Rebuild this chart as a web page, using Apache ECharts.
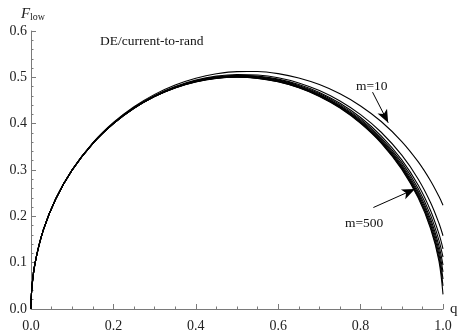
<!DOCTYPE html>
<html>
<head>
<meta charset="utf-8">
<script src="https://cdn.jsdelivr.net/npm/echarts@6/dist/echarts.min.js"></script>
<style>html,body{margin:0;padding:0;background:#fff;}#c{width:462px;height:333px;}</style>
</head>
<body>
<div id="c"></div>
<script>
const q = [0, 0.002, 0.01, 0.03, 0.06, 0.1, 0.15, 0.2, 0.25, 0.3, 0.35, 0.4, 0.45, 0.5, 0.55, 0.6, 0.65, 0.7, 0.75, 0.8, 0.85, 0.9, 0.94, 0.97, 0.99, 1];
const fM10  = [0, 0.0447, 0.0995, 0.1706, 0.2379, 0.3008, 0.3587, 0.4025, 0.4366, 0.4632, 0.4834, 0.4980, 0.5076, 0.5124, 0.5125, 0.5080, 0.4987, 0.4844, 0.4645, 0.4383, 0.4047, 0.3615, 0.3174, 0.2763, 0.2431, 0.2241];
const fM20  = [0, 0.0447, 0.0995, 0.1706, 0.2377, 0.3004, 0.3579, 0.4012, 0.4348, 0.4607, 0.4802, 0.4940, 0.5026, 0.5062, 0.5050, 0.4990, 0.4879, 0.4714, 0.4490, 0.4195, 0.3815, 0.3320, 0.2802, 0.2294, 0.1855, 0.1581];
const fM30  = [0, 0.0447, 0.0995, 0.1706, 0.2376, 0.3003, 0.3576, 0.4008, 0.4342, 0.4599, 0.4791, 0.4926, 0.5009, 0.5042, 0.5026, 0.4961, 0.4844, 0.4672, 0.4439, 0.4133, 0.3738, 0.3220, 0.2671, 0.2121, 0.1627, 0.1300];
const fM50  = [0, 0.0447, 0.0995, 0.1706, 0.2376, 0.3002, 0.3575, 0.4006, 0.4339, 0.4595, 0.4786, 0.4919, 0.5000, 0.5031, 0.5013, 0.4945, 0.4825, 0.4649, 0.4411, 0.4099, 0.3695, 0.3164, 0.2597, 0.2021, 0.1488, 0.1118];
const fM75  = [0, 0.0447, 0.0995, 0.1706, 0.2375, 0.3001, 0.3574, 0.4004, 0.4337, 0.4591, 0.4781, 0.4914, 0.4993, 0.5022, 0.5002, 0.4932, 0.4809, 0.4630, 0.4388, 0.4071, 0.3661, 0.3119, 0.2537, 0.1938, 0.1368, 0.0949];
const fM100 = [0, 0.0447, 0.0995, 0.1706, 0.2375, 0.3001, 0.3573, 0.4003, 0.4335, 0.4589, 0.4778, 0.4909, 0.4988, 0.5016, 0.4994, 0.4922, 0.4798, 0.4617, 0.4372, 0.4051, 0.3635, 0.3085, 0.2491, 0.1874, 0.1272, 0.0800];
const fM200 = [0, 0.0447, 0.0995, 0.1706, 0.2375, 0.3001, 0.3572, 0.4002, 0.4333, 0.4587, 0.4775, 0.4906, 0.4984, 0.5010, 0.4988, 0.4914, 0.4788, 0.4605, 0.4357, 0.4033, 0.3613, 0.3056, 0.2452, 0.1818, 0.1184, 0.0648];
const fM300 = [0, 0.0447, 0.0995, 0.1706, 0.2375, 0.3000, 0.3571, 0.4001, 0.4332, 0.4585, 0.4773, 0.4903, 0.4980, 0.5006, 0.4983, 0.4908, 0.4781, 0.4596, 0.4346, 0.4020, 0.3596, 0.3034, 0.2421, 0.1773, 0.1111, 0.0500];
const fM500 = [0, 0.0447, 0.0995, 0.1706, 0.2375, 0.3000, 0.3571, 0.4000, 0.4331, 0.4584, 0.4771, 0.4901, 0.4977, 0.5002, 0.4978, 0.4903, 0.4774, 0.4588, 0.4337, 0.4008, 0.3581, 0.3013, 0.2393, 0.1733, 0.1043, 0.0316];
const curves = [['m=10', fM10], ['m=20', fM20], ['m=30', fM30], ['m=50', fM50], ['m=75', fM75], ['m=100', fM100], ['m=200', fM200], ['m=300', fM300], ['m=500', fM500]];
const xTicks = ['0.0', '0.2', '0.4', '0.6', '0.8', '1.0'];
const yTicks = ['0.0', '0.1', '0.2', '0.3', '0.4', '0.5', '0.6'];
const title = 'DE/current-to-rand';
// arrow annotations in data coords: [label, from, to]
const arrows = [
  ['m=10', [0.829, 0.468], [0.867, 0.402]],
  ['m=500', [0.831, 0.219], [0.932, 0.259]]
];

const font = 'Liberation Serif';
const axisGray = '#7a7a7a';
const chart = echarts.init(document.getElementById('c'), null, {renderer: 'canvas'});

const series = curves.map((c, i) => ({
  name: c[0],
  type: 'line',
  data: q.map((x, k) => [x, c[1][k]]),
  smooth: 0.35,
  showSymbol: false,
  symbol: 'none',
  lineStyle: {color: '#000', width: 1.1},
  z: 3,
  silent: true,
  animation: false
}));
series[0].markLine = {
  silent: true,
  animation: false,
  symbol: ['none', 'arrow'],
  symbolSize: [8, 13],
  label: {show: false},
  lineStyle: {color: '#000', width: 1, type: 'solid'},
  data: arrows.map(a => [{coord: a[1]}, {coord: a[2]}])
};

chart.setOption({
  backgroundColor: '#fff',
  animation: false,
  grid: {left: 31, right: 19, top: 31, bottom: 18},
  xAxis: {
    type: 'value', min: 0, max: 1, interval: 0.2,
    name: 'q', nameLocation: 'end', nameGap: 7,
    nameTextStyle: {fontFamily: font, fontSize: 15, color: '#222', padding: [0, 0, 3, 0]},
    axisLine: {show: true, lineStyle: {color: axisGray, width: 1}},
    axisTick: {show: true, inside: true, length: 5, lineStyle: {color: axisGray}},
    minorTick: {show: true, splitNumber: 4, length: 2.5, lineStyle: {color: axisGray}},
    splitLine: {show: false},
    axisLabel: {margin: 10, fontFamily: font, fontSize: 14, color: '#222',
      formatter: v => xTicks[Math.round(v / 0.2)]}
  },
  yAxis: {
    type: 'value', min: 0, max: 0.6, interval: 0.1,
    name: '{f|F}{s|low}', nameLocation: 'end', nameGap: 9,
    nameTextStyle: {padding: [0, 0, 0, 4], rich: {
      f: {fontFamily: font, fontStyle: 'italic', fontSize: 15, color: '#222'},
      s: {fontFamily: font, fontSize: 10, color: '#222', verticalAlign: 'bottom', padding: [6, 0, 0, 0]}
    }},
    axisLine: {show: true, lineStyle: {color: axisGray, width: 1}},
    axisTick: {show: true, inside: true, length: 5, lineStyle: {color: axisGray}},
    minorTick: {show: true, splitNumber: 5, length: 2.5, lineStyle: {color: axisGray}},
    splitLine: {show: false},
    axisLabel: {margin: 4, fontFamily: font, fontSize: 14, color: '#222',
      formatter: v => yTicks[Math.round(v / 0.1)]}
  },
  graphic: [
    {type: 'text', left: 100, top: 34, style: {text: title, fontFamily: font, fontSize: 13.5, fill: '#111'}},
    {type: 'text', left: 356, top: 79, style: {text: arrows[0][0], fontFamily: font, fontSize: 13.5, fill: '#111'}},
    {type: 'text', left: 345, top: 216, style: {text: arrows[1][0], fontFamily: font, fontSize: 13.5, fill: '#111'}}
  ],
  series: series
});
</script>
</body>
</html>
